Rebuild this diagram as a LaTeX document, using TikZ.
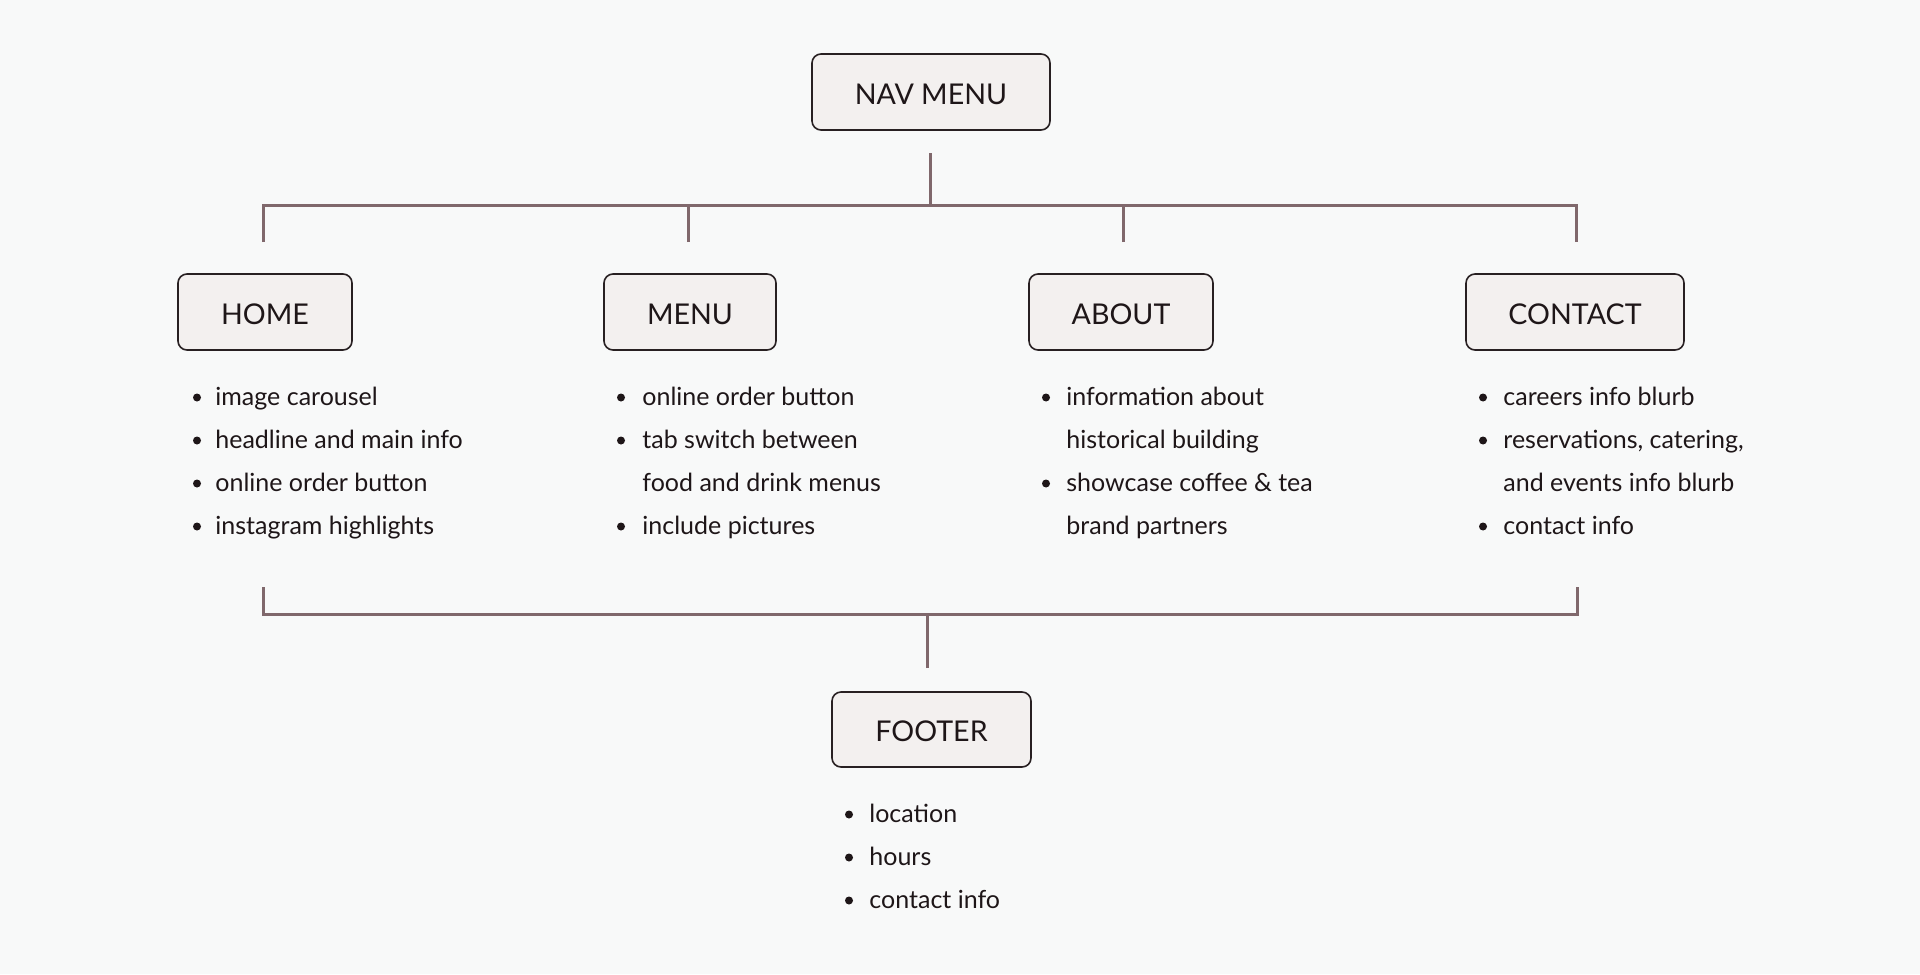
\documentclass[tikz,border=0pt]{standalone}
\usepackage{fontspec}
\setmainfont{Lato}
\definecolor{bg}{RGB}{248,249,249}
\definecolor{conncol}{RGB}{128,104,108}
\definecolor{boxfill}{RGB}{243,240,239}
\definecolor{boxline}{RGB}{40,32,34}
\definecolor{ink}{RGB}{30,22,24}
\tikzset{
  conn/.style={draw=conncol,line width=1.5pt},
  secbox/.style={draw=boxline,fill=boxfill,line width=0.8pt,rounded corners=4.5pt,
    minimum height=38pt,inner sep=0pt,text=ink,font=\fontsize{14.3}{16}\selectfont},
  lbl/.style={anchor=base,inner sep=0pt,text=ink,font=\fontsize{14.3}{16}\selectfont},
  item/.style={anchor=base west,inner sep=0pt,text=ink,font=\fontsize{12.5}{14}\selectfont},
  dot/.style={fill=ink}
}
\begin{document}
\begin{tikzpicture}[x=0.5pt,y=-0.5pt]
\fill[bg] (0,0) rectangle (1920,974);
\useasboundingbox (0,0) rectangle (1920,974);

% boxes
\node[secbox,minimum width=119pt] (nav) at (931,92) {};
\node[secbox,minimum width=87pt] (home) at (265,312) {};
\node[secbox,minimum width=86pt] (menu) at (690,312) {};
\node[secbox,minimum width=92pt] (about) at (1121,312) {};
\node[secbox,minimum width=109pt] (contact) at (1575,312) {};
\node[secbox,minimum width=99.5pt,minimum height=37.5pt] (footer) at (931.5,729.5) {};
\node[lbl] (navlbl) at (nav.center |- 0,104.5) {NAV MENU};
\node[lbl] (homelbl) at (home.center |- 0,324) {HOME};
\node[lbl] (menulbl) at (menu.center |- 0,324) {MENU};
\node[lbl] (aboutlbl) at (about.center |- 0,324) {ABOUT};
\node[lbl] (contactlbl) at (contact.center |- 0,324) {CONTACT};
\node[lbl] (footerlbl) at (footer.center |- 0,741.5) {FOOTER};

% top connector
\coordinate (navtail) at (930,153);
\coordinate (busL) at (263,205);
\coordinate (busR) at (1576,205);
\coordinate (hometick) at (263,242);
\coordinate (menutick) at (688,242);
\coordinate (abouttick) at (1123.5,242);
\coordinate (contacttick) at (1576,242);
\draw[conn] (hometick) -- (busL) -- (busR) -- (contacttick);
\draw[conn] (navtail) -- (navtail |- busL);
\draw[conn] (menutick) -- (menutick |- busL);
\draw[conn] (abouttick) -- (abouttick |- busL);

% bottom connector
\coordinate (fbL) at (263,587);
\coordinate (fbR) at (1577,587);
\coordinate (fbus) at (927,614);
\coordinate (fstem) at (927,668);
\draw[conn] (fbL) -- (fbL |- fbus) -- (fbR |- fbus) -- (fbR);
\draw[conn] (fstem) -- (fbus);

% HOME list
\node[item] (h1) at (215,405) {image carousel};
\node[item] (h2) at (215,448) {headline and main info};
\node[item] (h3) at (215,491) {online order button};
\node[item] (h4) at (215,534) {instagram highlights};
\foreach \y in {405,448,491,534} \fill[dot] (197,\y-7.5) circle (2pt);

% MENU list
\node[item] (m1) at (642,405) {online order button};
\node[item] (m2) at (642,448) {tab switch between};
\node[item] (m3) at (642,491) {food and drink menus};
\node[item] (m4) at (642,534) {include pictures};
\foreach \y in {405,448,534} \fill[dot] (621,\y-7.5) circle (2pt);

% ABOUT list
\node[item] (a1) at (1066,405) {information about};
\node[item] (a2) at (1066,448) {historical building};
\node[item] (a3) at (1066,491) {showcase coffee \& tea};
\node[item] (a4) at (1066,534) {brand partners};
\foreach \y in {405,491} \fill[dot] (1046,\y-7.5) circle (2pt);

% CONTACT list
\node[item] (c1) at (1503,405) {careers info blurb};
\node[item] (c2) at (1503,448) {reservations, catering,};
\node[item] (c3) at (1503,491) {and events info blurb};
\node[item] (c4) at (1503,534) {contact info};
\foreach \y in {405,448,534} \fill[dot] (1483,\y-7.5) circle (2pt);

% FOOTER list
\node[item] (f1) at (869,822) {location};
\node[item] (f2) at (869,865) {hours};
\node[item] (f3) at (869,908) {contact info};
\foreach \y in {822,865,908} \fill[dot] (849,\y-7.5) circle (2pt);
\end{tikzpicture}
\end{document}
